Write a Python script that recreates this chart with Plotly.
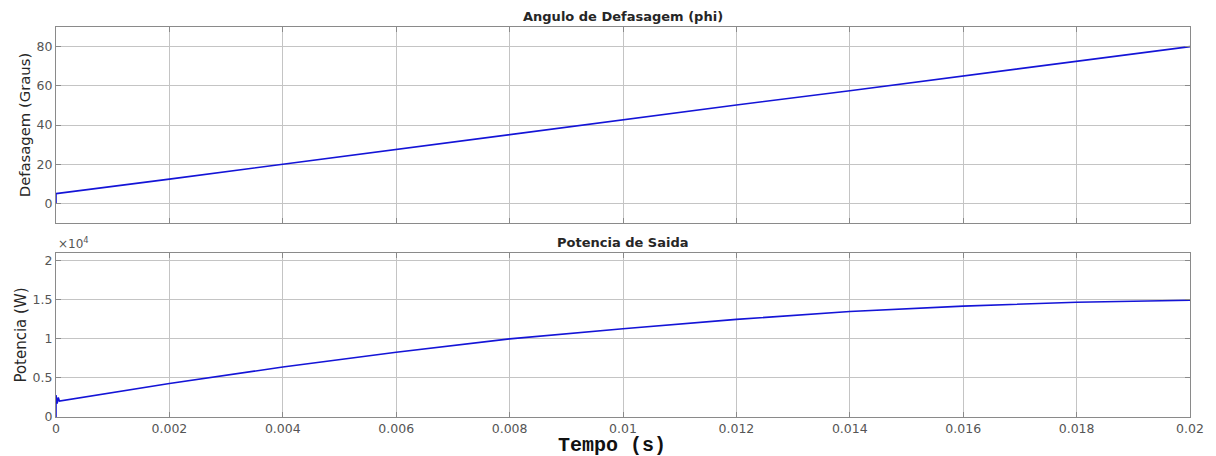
import plotly.graph_objects as go

# Data
t_phi = [0.0, 0.0, 0.002, 0.004, 0.006, 0.008, 0.010, 0.012, 0.014, 0.016, 0.018, 0.020]
phi = [0.0, 5.0, 12.4, 20.0, 27.6, 34.9, 42.5, 50.2, 57.5, 65.0, 72.3, 80.0]

t_pot = [0.0, 0.0, 0.00002, 0.00004, 0.00006, 0.002, 0.004, 0.006, 0.008, 0.010, 0.012, 0.014, 0.016, 0.018, 0.020]
pot = [0.0, 2800.0, 1700.0, 2500.0, 2050.0, 4300.0, 6400.0, 8300.0, 10000.0, 11300.0, 12500.0, 13500.0, 14200.0, 14700.0, 14950.0]

x_ticks = [0, 0.002, 0.004, 0.006, 0.008, 0.01, 0.012, 0.014, 0.016, 0.018, 0.02]
x_ticktext = ["0", "0.002", "0.004", "0.006", "0.008", "0.01", "0.012", "0.014", "0.016", "0.018", "0.02"]
phi_ticks = [0, 20, 40, 60, 80]
pot_ticks = [0, 5000, 10000, 15000, 20000]
pot_ticktext = ["0", "0.5", "1", "1.5", "2"]

line_color = "rgb(20,20,215)"
grid_c = "#c4c4c4"
frame_c = "#8a8a8a"
tick_font = dict(family="DejaVu Sans", size=12.5, color="#555555")

fig = go.Figure()
fig.add_trace(go.Scatter(x=t_phi, y=phi, mode="lines", line=dict(color=line_color, width=1.6),
                         xaxis="x", yaxis="y", showlegend=False))
fig.add_trace(go.Scatter(x=t_pot, y=pot, mode="lines", line=dict(color=line_color, width=1.6),
                         xaxis="x2", yaxis="y2", showlegend=False))

common_x = dict(range=[0, 0.02], tickvals=x_ticks, ticktext=x_ticktext, showgrid=True,
                gridcolor=grid_c, gridwidth=1, showline=True, linecolor=frame_c, linewidth=1,
                mirror="ticks", ticks="inside", ticklen=5, tickcolor=frame_c, zeroline=False,
                tickfont=tick_font)
common_y = dict(showgrid=True, gridcolor=grid_c, gridwidth=1, showline=True, linecolor=frame_c,
                linewidth=1, mirror="ticks", ticks="inside", ticklen=5, tickcolor=frame_c,
                zeroline=False, tickfont=tick_font)

fig.update_layout(
    width=1216, height=456,
    margin=dict(l=56, r=20, t=27, b=39),
    paper_bgcolor="white", plot_bgcolor="white",
    xaxis=dict(common_x, domain=[0, 1], anchor="y", showticklabels=False),
    yaxis=dict(common_y, domain=[0.4974, 1.0], range=[-10, 90], tickvals=phi_ticks,
               title=dict(text="Defasagem (Graus)", font=dict(family="DejaVu Sans", size=14.8, color="#262626"),
                          standoff=2)),
    xaxis2=dict(common_x, domain=[0, 1], anchor="y2"),
    yaxis2=dict(common_y, domain=[0.0, 0.4205], range=[0, 21000], tickvals=pot_ticks, ticktext=pot_ticktext,
                title=dict(text="Potencia (W)", font=dict(family="DejaVu Sans", size=15, color="#262626"),
                           standoff=2)),
    annotations=[
        dict(text="<b>Angulo de Defasagem (phi)</b>", x=0.5, y=1.0, xref="paper", yref="paper",
             xanchor="center", yanchor="bottom", yshift=1, showarrow=False,
             font=dict(family="DejaVu Sans", size=13, color="#262626")),
        dict(text="<b>Potencia de Saida</b>", x=0.5, y=0.4205, xref="paper", yref="paper",
             xanchor="center", yanchor="bottom", yshift=1, showarrow=False,
             font=dict(family="DejaVu Sans", size=13, color="#262626")),
        dict(text="×10<sup>4</sup>", x=0.0, y=0.4205, xref="paper", yref="paper",
             xanchor="left", yanchor="bottom", yshift=0, showarrow=False,
             font=dict(family="DejaVu Sans", size=12, color="#555555")),
        dict(text="<b>Tempo (s)</b>", x=0.49, y=0, xref="paper", yref="paper",
             xanchor="center", yanchor="top", yshift=-15, showarrow=False,
             font=dict(family="Liberation Mono", size=20, color="#111111")),
    ],
)

fig.write_html("out.html")
